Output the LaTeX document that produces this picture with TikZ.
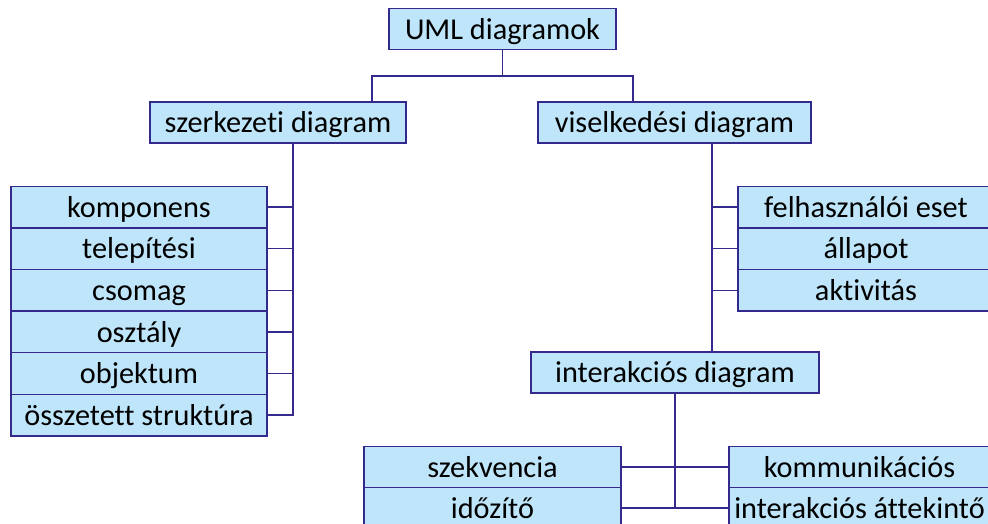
\documentclass[tikz,border=0pt]{standalone}
\usepackage{fontspec}
\setmainfont{Carlito}[Ligatures=NoCommon]
\usepackage{tikz}
\definecolor{boxfill}{RGB}{190,229,249}
\definecolor{boxline}{RGB}{52,42,142}
\tikzset{
  diag/.style={draw=boxline, line width=1.4pt, fill=boxfill, inner sep=0pt,
    minimum height=41pt, text height=28pt, text depth=7.6pt,
    font=\fontsize{30.3}{36}\selectfont},
  link/.style={draw=boxline, line width=1.4pt}
}

\begin{document}
\begin{tikzpicture}[x=1pt,y=-1pt]

\clip (0,0) rectangle (988,524);

\node[diag, minimum width=227pt] (root) at (502.5,29) {UML diagramok};
\node[diag, minimum width=256pt] (szerk) at (278,122.5) {szerkezeti diagram};
\node[diag, minimum width=273pt] (visel) at (674.5,122.5) {viselkedési diagram};
\node[diag, minimum width=288pt] (inter) at (675,372.5) {interakciós diagram};

\foreach \i/\t in {0/komponens,1/telepítési,2/csomag,3/osztály,4/objektum,5/összetett struktúra}
{
\node[diag, minimum width=256pt, minimum height=41.6pt] (l\i) at (139,{207+41.6*\i}) {\t};
}

\foreach \i/\t in {0/felhasználói eset,1/állapot,2/aktivitás}
{
\node[diag, minimum width=256pt, minimum height=41.6pt] (r\i) at (866,{207+41.6*\i}) {\t};
}

\foreach \i/\t in {0/szekvencia,1/időzítő}
{
\node[diag, minimum width=257pt] (b\i) at (492.5,{467+41*\i}) {\t};
}

\foreach \i/\t in {0/kommunikációs,1/interakciós áttekintő}
{
\node[diag, minimum width=261pt] (c\i) at (859.5,{467+41*\i}) {\t};
}

\coordinate (split) at ([yshift=-26pt]root.south);
\coordinate (sz) at ([xshift=15pt]szerk.south);
\coordinate (vs) at ([xshift=37.5pt]visel.south);

\draw[link] (root.south) -- (split);
\draw[link] ([xshift=94pt]szerk.north) |- (split) -| ([xshift=-41.5pt]visel.north);

\draw[link] (sz) |- (l5.east);
\foreach \i in {0,...,4}
{
\draw[link] (l\i.east) -- (l\i.east -| sz);
}

\draw[link] (vs) -- (vs |- inter.north);
\foreach \i in {0,1,2}
{
\draw[link] (r\i.west) -- (r\i.west -| vs);
}

\draw[link] (inter.south) -- (inter.south |- b1.east);
\draw[link] (b0.east) -- (c0.west);
\draw[link] (b1.east) -- (c1.west);
\end{tikzpicture}
\end{document}
